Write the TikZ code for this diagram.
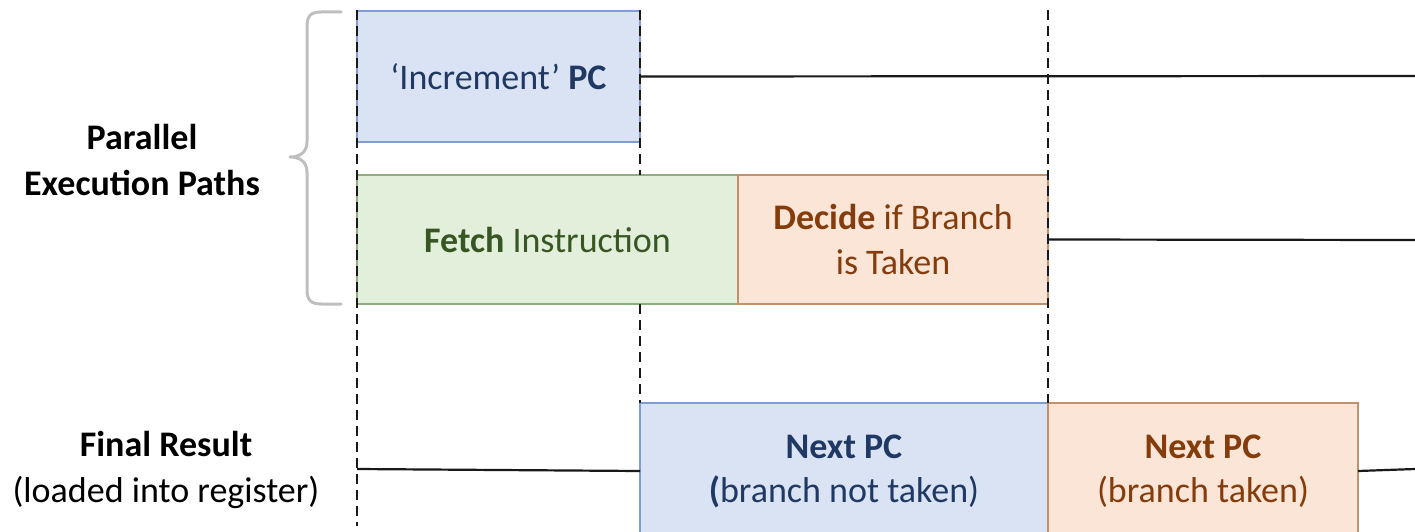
\documentclass[tikz,border=0pt]{standalone}
\usepackage{fontspec}
\setmainfont{Carlito}
\definecolor{blueFill}{HTML}{DAE3F3}
\definecolor{blueEdge}{HTML}{7F9DD0}
\definecolor{blueText}{HTML}{1F3864}
\definecolor{greenFill}{HTML}{E2EFDA}
\definecolor{greenEdge}{HTML}{8FAE80}
\definecolor{greenText}{HTML}{375623}
\definecolor{orangeFill}{HTML}{FBE5D6}
\definecolor{orangeEdge}{HTML}{C0916B}
\definecolor{orangeText}{HTML}{843C0C}
\definecolor{braceGray}{HTML}{BFBFBF}
\tikzset{
  x=1pt, y=-1pt,
  stagebox/.style={draw, line width=1.2pt, inner sep=0pt, outer sep=0pt, align=center,
    font=\fontsize{36}{44}\selectfont},
  bluebox/.style={stagebox, fill=blueFill, draw=blueEdge, text=blueText},
  greenbox/.style={stagebox, fill=greenFill, draw=greenEdge, text=greenText},
  orangebox/.style={stagebox, fill=orangeFill, draw=orangeEdge, text=orangeText},
  timeline/.style={line width=2.2pt, black!90},
  boundary/.style={line width=2pt, black!90, dash pattern=on 10pt off 6pt},
  sidelabel/.style={align=center, font=\fontsize{36}{46}\selectfont, inner sep=0pt},
}
\begin{document}
\begin{tikzpicture}
\useasboundingbox (0,0) rectangle (1415,532);
\clip (0,0) rectangle (1415,532);

% stage boxes
\node[bluebox, minimum width=283pt, minimum height=131pt] (inc) at (498.5,76.5)
  {‘Increment’ \textbf{PC}};
\node[greenbox, minimum width=381pt, minimum height=129pt] (fetch) at (547.5,239.5)
  {\textbf{Fetch} Instruction};
\node[orangebox, minimum width=310pt, minimum height=129pt] (decide) at (893,239.5)
  {\textbf{Decide} if Branch\\is Taken};
\node[bluebox, minimum width=408pt, minimum height=136pt] (nottaken) at (844,471)
  {\textbf{Next PC}\\\textbf{(}branch not taken)};
\node[orangebox, minimum width=310pt, minimum height=136pt] (taken) at (1203,471)
  {\textbf{Next PC}\\(branch taken)};

% cycle boundaries (the one at the end of the increment stays hidden behind the fetch)
\coordinate (b1top) at (357,10);
\coordinate (b1bot) at (357,526);
\coordinate (b2top) at (640,10);
\coordinate (b3top) at (1048,10);
\draw[boundary] (b1top) -- (b1bot);
\draw[boundary] (b2top) -- (b2top |- fetch.north);
\draw[boundary] (b2top |- fetch.south) -- (nottaken.north west);
\draw[boundary] (b3top) -- (nottaken.north east);

% held values
\coordinate (incEnd) at (1415,76);
\coordinate (decEnd) at (1415,240);
\coordinate (resStart) at (357,469);
\coordinate (resEnd) at (1415,469);
\draw[timeline] (inc.east) -- (incEnd);
\draw[timeline] (decide.east) -- (decEnd);
\draw[timeline] (resStart) -- (nottaken.west);
\draw[timeline] (taken.east) -- (resEnd);

% brace grouping the parallel paths
\draw[braceGray, line width=3pt, line cap=round, line join=round]
  (341,12) -- (321,12) .. controls (311,12) and (307,16) .. (307,26)
  -- (307,142) .. controls (307,152) and (300,157) .. (290,157)
  .. controls (300,157) and (307,162) .. (307,172)
  -- (307,290) .. controls (307,300) and (311,304) .. (321,304) -- (341,304);

% row labels
\node[sidelabel] (par) at (142,160) {\textbf{Parallel}\\\textbf{Execution Paths}};
\node[sidelabel] (fin) at (166,470) {\textbf{Final Result}\\(loaded into register)};
\end{tikzpicture}
\end{document}
